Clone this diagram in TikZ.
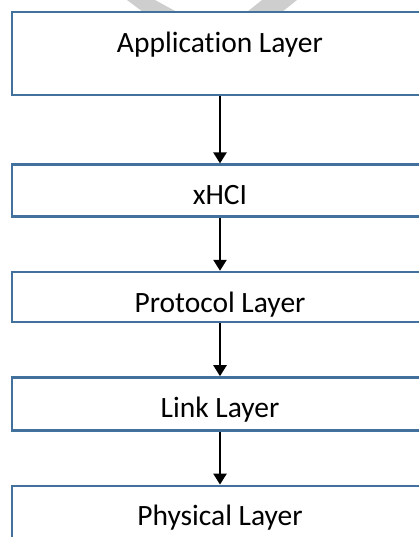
\documentclass[tikz,border=0pt]{standalone}
\usepackage{fontspec}
\setmainfont{Carlito}[Ligatures={NoCommon,NoContextual}]
\usetikzlibrary{positioning, arrows.meta}
\definecolor{layerblue}{RGB}{65,113,156}
\definecolor{markgray}{RGB}{206,206,206}

\begin{document}
\begin{tikzpicture}[->,>={Triangle[width=13pt,length=11pt]},line width=2.4pt,node distance=53pt,
    layer/.style={draw=layerblue,fill=white,rectangle,minimum width=416pt,inner xsep=0pt,inner ysep=0pt,text height=40pt,font=\fontsize{29.5}{35}\selectfont}]
  \clip (0,0) rectangle (419pt,-537pt);
  % watermark behind the top box
  \fill[markgray] (127pt,0pt) -- (155pt,0pt) -- (177pt,-12pt) -- (143pt,-12pt) -- cycle;
  \fill[markgray] (262pt,0pt) -- (297pt,0pt) -- (282pt,-12pt) -- (247pt,-12pt) -- cycle;
  \node[layer,text depth=43pt,anchor=north] (app) at (220pt,-11pt) {Application Layer};
  \node[layer,text depth=12pt,below=67pt of app] (xhci) {xHCI};
  \node[layer,text depth=10pt,below=of xhci] (proto) {Protocol Layer};
  \node[layer,text depth=13pt,below=of proto] (link) {Link Layer};
  \node[layer,text depth=60pt,below=of link] (phys) {Physical Layer};
  \path (app) edge (xhci)
    (xhci) edge (proto)
    (proto) edge (link)
    (link) edge (phys);
\end{tikzpicture}
\end{document}
